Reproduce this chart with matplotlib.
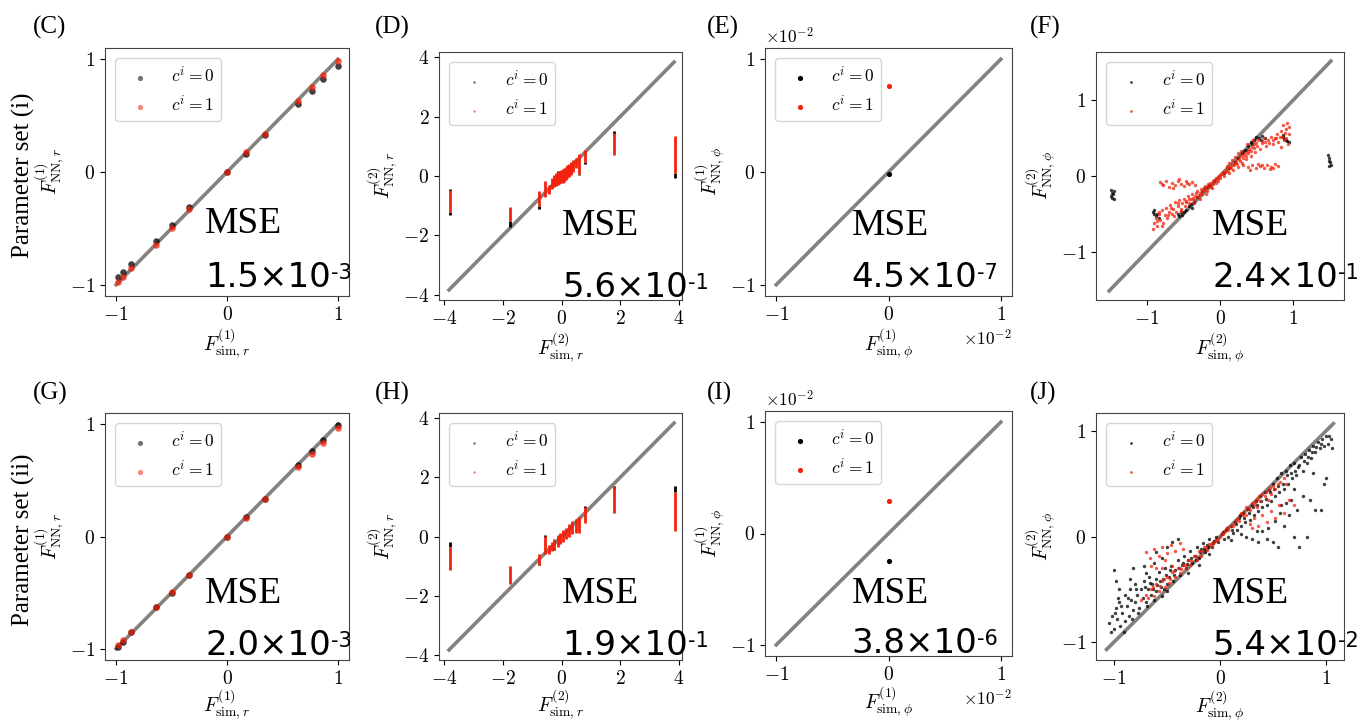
import matplotlib
matplotlib.use("Agg")
import matplotlib.pyplot as plt
import numpy as np

plt.rcParams["font.family"] = "cmr10"
plt.rcParams["mathtext.fontset"] = "cm"
plt.rcParams["axes.formatter.use_mathtext"] = True
plt.rcParams["axes.unicode_minus"] = True

C_BLACK = "#000000"
C_RED = "#f2220c"
C_DIAG = "#86817c"

# ---------------- data ----------------
# panel C / G : F^(1)_r  (sim value, NN value)
r1_sim = [-0.985, -0.94, -0.866, -0.643, -0.5, -0.342, 0.0, 0.174, 0.342, 0.643, 0.766, 0.866, 1.0]
C_nn0 = [-0.935, -0.89, -0.816, -0.608, -0.466, -0.312, 0.0, 0.157, 0.332, 0.602, 0.721, 0.822, 0.94]
C_nn1 = [-0.98, -0.935, -0.855, -0.644, -0.498, -0.332, 0.0, 0.178, 0.341, 0.632, 0.757, 0.86, 0.985]
G_nn0 = [-0.98, -0.94, -0.855, -0.632, -0.5, -0.341, 0.0, 0.17, 0.332, 0.635, 0.763, 0.858, 0.99]
G_nn1 = [-0.964, -0.92, -0.85, -0.632, -0.49, -0.341, 0.0, 0.163, 0.332, 0.623, 0.739, 0.837, 0.97]

# panel D / H : F^(2)_r, vertical streaks (sim value, NN low, NN high)
D_red_x = [-3.80, -1.75, -0.78, -0.55, -0.44, -0.33, -0.25, -0.18, -0.13, -0.07, -0.02, 0.04,
           0.09, 0.14, 0.20, 0.26, 0.32, 0.40, 0.49, 0.60, 0.80, 1.78, 3.85]
D_red_lo = [-1.20, -1.53, -1.00, -0.69, -0.60, -0.45, -0.37, -0.33, -0.30, -0.28, -0.24, -0.22,
            -0.20, -0.14, -0.08, -0.03, 0.03, 0.12, 0.26, 0.08, 0.47, 0.71, 0.11]
D_red_hi = [-0.47, -1.05, -0.49, -0.17, -0.30, -0.08, 0.03, 0.10, 0.14, 0.18, 0.20, 0.23,
            0.26, 0.30, 0.37, 0.42, 0.48, 0.55, 0.62, 0.75, 0.86, 1.43, 1.34]
D_blk_x = [-3.80, -3.80, -1.75, -0.78, -0.13, 0.60, 0.80, 1.78, 3.85]
D_blk_lo = [-1.30, -0.52, -1.70, -1.10, 0.10, 0.02, 0.42, 1.40, -0.08]
D_blk_hi = [-1.20, -0.45, -1.53, -1.00, 0.16, 0.08, 0.47, 1.52, 0.11]

H_red_x = [-3.80, -1.75, -0.78, -0.55, -0.44, -0.33, -0.25, -0.13, -0.04, 0.05, 0.15, 0.25,
           0.37, 0.49, 0.60, 0.80, 1.78, 3.85]
H_red_lo = [-1.12, -1.60, -0.96, -0.60, -0.60, -0.50, -0.45, -0.34, -0.25, -0.18, -0.10, 0.00,
            0.08, 0.13, 0.13, 0.45, 0.80, 0.20]
H_red_hi = [-0.34, -1.00, -0.60, 0.02, -0.30, -0.20, -0.07, 0.04, 0.12, 0.22, 0.30, 0.41,
            0.52, 0.60, 0.67, 1.00, 1.70, 1.50]
H_blk_x = [-3.80, -0.78, -0.55, -0.25, 0.80, 1.78, 3.85]
H_blk_lo = [-0.34, -0.96, 0.00, -0.45, 0.95, 1.60, 1.50]
H_blk_hi = [-0.18, -0.88, 0.06, -0.40, 1.03, 1.72, 1.72]

# panel E / I : F^(1)_phi
E_sim0, E_nn0 = [0.0], [-0.0002]
E_sim1, E_nn1 = [0.0], [0.0076]
I_sim0, I_nn0 = [0.0], [-0.0025]
I_sim1, I_nn1 = [0.0], [0.0029]

# panel F : F^(2)_phi
F_x0 = [-1.50, -1.48, -1.50, -1.46, -1.48, -1.45, -1.47, 1.48, 1.50, 1.50, 1.52, 1.49, 1.51,
        -0.92, -0.90, -0.88, -0.86, -0.84, -0.90, -0.58, -0.56, -0.54, -0.52, -0.50,
        -0.42, -0.40, -0.38, -0.36, -0.25, -0.22, -0.15, -0.08, 0.05, 0.12, 0.20, 0.30, 0.35, 0.38,
        0.42, 0.46, 0.50, 0.54, 0.58, 0.62, 0.86, 0.88, 0.90, 0.92, 0.95, 0.87,
        -0.47, -0.32, -0.18, 0.25, 0.33, 0.44, 0.56]
F_y0 = [-0.18, -0.22, -0.26, -0.30, -0.29, -0.20, -0.24, 0.28, 0.24, 0.20, 0.15, 0.13, 0.18,
        -0.47, -0.50, -0.53, -0.50, -0.55, -0.45, -0.50, -0.53, -0.48, -0.51, -0.47,
        -0.40, -0.37, -0.42, -0.35, -0.20, -0.16, -0.12, -0.06, 0.04, 0.10, 0.18, 0.30, 0.35, 0.40,
        0.45, 0.48, 0.52, 0.50, 0.53, 0.50, 0.52, 0.49, 0.47, 0.46, 0.45, 0.54,
        -0.45, -0.28, -0.15, 0.24, 0.33, 0.42, 0.48]
F_x1 = [-0.92, -0.90, -0.88, -0.86, -0.84, -0.82, -0.80, -0.78, -0.76, -0.74, -0.72, -0.70, -0.68,
        -0.66, -0.64, -0.62, -0.60, -0.58, -0.56, -0.54, -0.52, -0.50, -0.48, -0.46, -0.44, -0.42,
        -0.40, -0.38, -0.36, -0.34, -0.32, -0.30, -0.28, -0.26, -0.24, -0.22, -0.20, -0.18, -0.16,
        -0.14, -0.12, -0.10, -0.08, -0.06, -0.04, -0.02, 0.00, 0.02, 0.04, 0.06, 0.08, 0.10, 0.12,
        0.14, 0.16, 0.18, 0.20, 0.22, 0.24, 0.26, 0.28, 0.30, 0.32, 0.34, 0.36, 0.38, 0.40, 0.42,
        0.44, 0.46, 0.48, 0.50, 0.52, 0.55, 0.58, 0.60, 0.63, 0.66, 0.70, 0.72, 0.75, 0.78, 0.80,
        0.83, 0.85, 0.86, 0.88, 0.90, 0.92, 0.93, 0.95, 0.94,
        -0.82, -0.78, -0.74, -0.70, -0.66, -0.62, -0.58, -0.54, -0.50, -0.46, -0.42, -0.38, -0.34,
        0.32, 0.38, 0.44, 0.50, 0.55, 0.60, 0.65, 0.70, 0.75, 0.80, 0.52, 0.68,
        -0.87, -0.83, -0.79, -0.71, -0.67, -0.63, -0.57, -0.53, -0.47, -0.43, -0.37, -0.33, -0.29,
        -0.25, -0.21, -0.17, -0.13, -0.09, -0.05, -0.01, 0.03, 0.07, 0.11, 0.15, 0.19, 0.23, 0.27,
        0.31, 0.35, 0.39, 0.43, 0.47, 0.51, 0.57, 0.62, 0.67, 0.73, 0.77, 0.82, 0.89, 0.91, 0.13,
        0.21, 0.29, 0.37, 0.45, -0.19, -0.27, -0.35, 0.09, 0.17, 0.25, -0.11, -0.03,
        -0.79, -0.64, -0.56, -0.45, 0.41, 0.58, 0.72, 0.84]
F_y1 = [-0.70, -0.62, -0.55, -0.66, -0.50, -0.58, -0.45, -0.62, -0.52, -0.42, -0.56, -0.48, -0.38,
        -0.50, -0.44, -0.35, -0.47, -0.40, -0.32, -0.43, -0.36, -0.30, -0.40, -0.33, -0.27, -0.36,
        -0.30, -0.24, -0.32, -0.26, -0.20, -0.28, -0.22, -0.17, -0.24, -0.18, -0.13, -0.20, -0.14,
        -0.09, -0.15, -0.10, -0.05, -0.09, -0.04, 0.00, -0.03, 0.02, 0.05, 0.00, 0.07, 0.10, 0.04,
        0.12, 0.15, 0.08, 0.17, 0.20, 0.12, 0.22, 0.26, 0.17, 0.28, 0.30, 0.22, 0.33, 0.36, 0.27,
        0.38, 0.42, 0.32, 0.44, 0.47, 0.36, 0.46, 0.50, 0.40, 0.48, 0.52, 0.42, 0.50, 0.55, 0.45,
        0.60, 0.52, 0.68, 0.47, 0.62, 0.70, 0.42, 0.55, 0.65,
        -0.08, -0.12, -0.06, -0.14, -0.09, -0.12, -0.06, -0.10, -0.13, -0.07, -0.11, -0.08, -0.12,
        0.14, 0.12, 0.15, 0.11, 0.13, 0.10, 0.14, 0.12, 0.16, 0.13, 0.16, 0.09,
        -0.60, -0.47, -0.66, -0.52, -0.42, -0.53, -0.36, -0.46, -0.34, -0.31, -0.29, -0.23, -0.25,
        -0.20, -0.16, -0.11, -0.12, -0.07, -0.02, -0.01, 0.03, 0.05, 0.07, 0.10, 0.14, 0.16, 0.20,
        0.24, 0.27, 0.30, 0.33, 0.37, 0.40, 0.43, 0.45, 0.44, 0.47, 0.50, 0.52, 0.57, 0.50, 0.17,
        0.25, 0.33, 0.42, 0.48, -0.24, -0.30, -0.36, 0.13, 0.21, 0.30, -0.16, -0.07,
        -0.10, -0.16, -0.04, -0.09, 0.08, 0.14, 0.11, 0.38]

# panel J : F^(2)_phi
J_x0 = [-1.05, -1.02, -1.00, -0.98, -0.97, -0.95, -0.94, -0.92, -0.90, -0.90, -0.88, -0.86, -0.85,
        -0.84, -0.82, -0.80, -0.80, -0.78, -0.76, -0.75, -0.73, -0.72, -0.70, -0.68, -0.67, -0.65,
        -0.64, -0.62, -0.60, -0.60, -0.58, -0.56, -0.55, -0.54, -0.52, -0.50, -0.50,
        -1.00, -0.98, -0.82, -0.72, -0.60, -0.55, -0.45, -0.40, -0.50,
        -0.48, -0.46, -0.44, -0.42, -0.40, -0.38, -0.36, -0.34, -0.32, -0.30, -0.28, -0.26, -0.24,
        -0.22, -0.20, -0.18, -0.16, -0.14, -0.12, -0.10, -0.08, -0.06, -0.04, -0.02, -0.30, -0.20, -0.10,
        0.02, 0.04, 0.06, 0.08, 0.10, 0.12, 0.14, 0.16, 0.18, 0.20, 0.22, 0.24, 0.26, 0.28, 0.30,
        0.32, 0.34, 0.36, 0.38, 0.40, 0.42, 0.44, 0.46, 0.48, 0.50, 0.25, 0.30, 0.35, 0.45, 0.10, 0.20,
        0.52, 0.54, 0.56, 0.58, 0.60, 0.62, 0.64, 0.66, 0.68, 0.70, 0.72, 0.74, 0.76, 0.78, 0.80,
        0.82, 0.84, 0.86, 0.88, 0.90, 0.92, 0.94, 0.96, 0.98, 1.00, 1.02, 1.05, 1.06,
        0.55, 0.60, 0.65, 0.70, 0.75, 0.82, 0.85, 0.90, 0.95, 0.98, 1.00, 0.58, 0.50, 0.44, 0.62,
        0.78, 0.70, 0.88,
        -1.03, -0.99, -0.96, -0.93, -0.91, -0.87, -0.83, -0.79, -0.77, -0.71, -0.69, -0.66, -0.63,
        -0.59, -0.57, -0.53, -0.51, -0.47, -0.43, -0.39, -0.35, -0.31, -0.27, -0.23, -0.19, -0.15,
        -0.11, -0.07, 0.03, 0.07, 0.11, 0.15, 0.19, 0.23, 0.27, 0.31, 0.35, 0.39, 0.43, 0.47, 0.51,
        0.55, 0.59, 0.63, 0.67, 0.71, 0.75, 0.79, 0.83, 0.87, 0.91, 0.95, 1.03, 0.57, 0.67, 0.73,
        0.52, 0.40, 0.36, -0.62, -0.70, -0.85, -0.95]
J_y0 = [-0.82, -0.75, -0.88, -0.68, -0.78, -0.62, -0.85, -0.72, -0.55, -0.80, -0.66, -0.75, -0.50,
        -0.60, -0.70, -0.45, -0.62, -0.55, -0.68, -0.50, -0.58, -0.42, -0.62, -0.50, -0.38, -0.55,
        -0.45, -0.60, -0.40, -0.52, -0.34, -0.48, -0.56, -0.40, -0.30, -0.45, -0.52,
        -0.32, -0.42, -0.30, -0.28, -0.15, -0.20, -0.05, -0.02, -0.10,
        -0.38, -0.28, -0.42, -0.32, -0.22, -0.36, -0.27, -0.18, -0.30, -0.22, -0.14, -0.25, -0.18,
        -0.10, -0.20, -0.12, -0.06, -0.15, -0.08, -0.02, -0.10, -0.04, 0.00, -0.05, -0.35, -0.27, -0.17,
        0.02, -0.02, 0.06, 0.00, 0.10, 0.03, 0.14, 0.06, 0.18, 0.10, 0.22, 0.14, 0.26, 0.16, 0.30,
        0.20, 0.34, 0.24, 0.38, 0.28, 0.42, 0.30, 0.44, 0.34, 0.50, 0.00, -0.02, 0.05, 0.08, -0.03, 0.02,
        0.38, 0.55, 0.42, 0.60, 0.45, 0.62, 0.50, 0.68, 0.55, 0.70, 0.58, 0.66, 0.75, 0.62, 0.78,
        0.70, 0.82, 0.74, 0.86, 0.80, 0.90, 0.84, 0.92, 0.86, 0.95, 0.88, 0.92, 0.84,
        -0.10, 0.10, 0.20, 0.00, -0.10, 0.00, 0.35, 0.25, 0.25, 0.50, 0.55, 0.30, -0.05, -0.02, 0.32,
        0.38, 0.45, 0.60,
        -0.90, -0.72, -0.58, -0.66, -0.90, -0.58, -0.78, -0.50, -0.72, -0.48, -0.66, -0.44, -0.50,
        -0.46, -0.42, -0.50, -0.36, -0.32, -0.36, -0.30, -0.25, -0.26, -0.20, -0.22, -0.15, -0.12,
        -0.10, -0.06, 0.04, 0.08, 0.06, 0.12, 0.20, 0.18, 0.22, 0.28, 0.30, 0.34, 0.36, 0.42, 0.45,
        0.48, 0.50, 0.58, 0.60, 0.62, 0.68, 0.72, 0.75, 0.80, 0.85, 0.88, 0.95, 0.22, 0.35, 0.25,
        0.15, 0.05, -0.05, -0.25, -0.35, -0.40, -0.50]
J_x1 = [-0.75, -0.70, -0.65, -0.62, -0.60, -0.58, -0.55, -0.52, -0.50, -0.48, -0.45, -0.42, -0.40,
        -0.38, -0.35, -0.32, -0.30, -0.28, -0.25, -0.22, -0.20, -0.18, -0.15, -0.12, -0.10, -0.08,
        -0.05, -0.02, 0.00, 0.03, 0.05, 0.08, 0.10, 0.12, 0.15, 0.18, 0.20, 0.22, 0.25, 0.28, 0.30,
        0.32, 0.35, 0.38, 0.40, 0.42, 0.45, 0.48, 0.50, 0.55, 0.60,
        -0.70, -0.66, -0.62, -0.58, -0.55, -0.50, -0.46, -0.42, -0.38, -0.35, -0.65, -0.55,
        0.28, 0.32, 0.36, 0.40, 0.44, 0.48, 0.52, 0.56, 0.60, 0.65, 0.70, 0.30,
        -0.68, -0.63, -0.57, -0.53, -0.47, -0.43, -0.37, -0.33, -0.27, -0.23, -0.17, -0.13, -0.07,
        -0.03, 0.02, 0.07, 0.13, 0.17, 0.23, 0.27, 0.33, 0.37, 0.43, 0.47, 0.52, 0.57, 0.62, 0.45,
        0.35, 0.25, -0.45, -0.52, -0.60]
J_y1 = [-0.60, -0.55, -0.50, -0.56, -0.45, -0.52, -0.42, -0.48, -0.38, -0.44, -0.34, -0.38, -0.30,
        -0.35, -0.27, -0.30, -0.22, -0.27, -0.18, -0.22, -0.14, -0.18, -0.10, -0.13, -0.07, -0.09,
        -0.04, -0.02, 0.00, 0.02, 0.05, 0.06, 0.10, 0.10, 0.16, 0.15, 0.22, 0.20, 0.28, 0.25, 0.32,
        0.30, 0.36, 0.34, 0.40, 0.38, 0.44, 0.40, 0.48, 0.50, 0.55,
        -0.15, -0.20, -0.12, -0.18, -0.10, -0.16, -0.08, -0.14, -0.06, -0.12, -0.28, -0.30,
        0.12, 0.18, 0.10, 0.20, 0.14, 0.24, 0.18, 0.30, 0.22, 0.35, 0.30, 0.08,
        -0.58, -0.48, -0.47, -0.40, -0.40, -0.33, -0.31, -0.27, -0.23, -0.18, -0.14, -0.10, -0.06,
        -0.03, 0.03, 0.08, 0.13, 0.18, 0.24, 0.27, 0.33, 0.38, 0.42, 0.46, 0.45, 0.52, 0.50, 0.35,
        0.28, 0.20, -0.28, -0.22, -0.30]

# diagonal (range of simulated values)
diag_C = [-1.0, 1.0]
diag_D = [-3.83, 3.83]
diag_E = [-0.01, 0.01]
diag_F = [-1.52, 1.52]
diag_J = [-1.07, 1.07]

mse_text = ["1.5×10", "5.6×10", "4.5×10", "2.4×10", "2.0×10", "1.9×10", "3.8×10", "5.4×10"]
mse_exp = ["-3", "-1", "-7", "-1", "-3", "-1", "-6", "-2"]
panel_tags = ["(C)", "(D)", "(E)", "(F)", "(G)", "(H)", "(I)", "(J)"]
row_labels = ["Parameter set (i)", "Parameter set (ii)"]

# ---------------- layout ----------------
W, H = 1368, 724
fig = plt.figure(figsize=(W / 100, H / 100), dpi=100)


def px_rect(l, t, r, b):
    return [l / W, 1 - b / H, (r - l) / W, (b - t) / H]


rects = [(105, 48, 349, 296), (439, 52, 682, 300), (765, 48, 1012, 296), (1096, 52, 1344, 300),
         (105, 413, 349, 660), (439, 413, 682, 660), (765, 411, 1012, 656), (1096, 413, 1344, 660)]
axes = [fig.add_axes(px_rect(*r)) for r in rects]

# (x frac, MSE baseline, number baseline)
mse_pos = [(0.41, 0.254, 0.036), (0.506, 0.262, 0.012), (0.35, 0.246, 0.036), (0.468, 0.262, 0.052),
           (0.41, 0.229, 0.02), (0.506, 0.229, 0.02), (0.35, 0.215, 0.012), (0.468, 0.229, 0.02)]

ylabs = [r"$F^{(1)}_{\mathrm{NN},r}$", r"$F^{(2)}_{\mathrm{NN},r}$",
         r"$F^{(1)}_{\mathrm{NN},\phi}$", r"$F^{(2)}_{\mathrm{NN},\phi}$"]
xlabs = [r"$F^{(1)}_{\mathrm{sim},r}$", r"$F^{(2)}_{\mathrm{sim},r}$",
         r"$F^{(1)}_{\mathrm{sim},\phi}$", r"$F^{(2)}_{\mathrm{sim},\phi}$"]


def legend(ax, s, alpha):
    h0 = ax.scatter([], [], s=s, color=C_BLACK, alpha=alpha, lw=0, label=r"$c^i=0$")
    h1 = ax.scatter([], [], s=s, color=C_RED, alpha=alpha, lw=0, label=r"$c^i=1$")
    ax.legend(handles=[h0, h1], loc="upper left", fontsize=12.5, borderaxespad=0.6)


for k, ax in enumerate(axes):
    col = k % 4
    if col == 0:
        ax.plot(diag_C, diag_C, color=C_DIAG, lw=2.6, zorder=1)
        nn0, nn1 = (C_nn0, C_nn1) if k == 0 else (G_nn0, G_nn1)
        ax.scatter(r1_sim, nn0, s=22, color=C_BLACK, alpha=0.75, lw=0, zorder=2)
        ax.scatter(r1_sim, nn1, s=22, color=C_RED, alpha=0.75, lw=0, zorder=3)
        ax.set_xlim(-1.1, 1.1)
        ax.set_ylim(-1.1, 1.1)
        ax.set_xticks([-1, 0, 1])
        ax.set_yticks([-1, 0, 1])
        legend(ax, 14, 0.55)
    elif col == 1:
        ax.plot(diag_D, diag_D, color=C_DIAG, lw=2.6, zorder=1)
        if k == 1:
            bx, blo, bhi, rx, rlo, rhi = D_blk_x, D_blk_lo, D_blk_hi, D_red_x, D_red_lo, D_red_hi
        else:
            bx, blo, bhi, rx, rlo, rhi = H_blk_x, H_blk_lo, H_blk_hi, H_red_x, H_red_lo, H_red_hi
        ax.vlines(bx, blo, bhi, color=C_BLACK, lw=2.0, zorder=2)
        ax.vlines(rx, rlo, rhi, color=C_RED, lw=2.0, zorder=3)
        ax.set_xlim(-4.17, 4.1)
        ax.set_ylim(-4.17, 4.17)
        ax.set_xticks([-4, -2, 0, 2, 4])
        ax.set_yticks([-4, -2, 0, 2, 4])
        legend(ax, 3, 0.6)
    elif col == 2:
        ax.plot(diag_E, diag_E, color=C_DIAG, lw=2.6, zorder=1)
        if k == 2:
            s0, n0, s1, n1 = E_sim0, E_nn0, E_sim1, E_nn1
        else:
            s0, n0, s1, n1 = I_sim0, I_nn0, I_sim1, I_nn1
        ax.scatter(s0, n0, s=14, color=C_BLACK, lw=0, zorder=2)
        ax.scatter(s1, n1, s=14, color=C_RED, lw=0, zorder=3)
        ax.set_xlim(-0.011, 0.011)
        ax.set_ylim(-0.011, 0.011)
        ax.set_xticks([-0.01, 0, 0.01])
        ax.set_yticks([-0.01, 0, 0.01])
        ax.ticklabel_format(style="sci", scilimits=(0, 0), useMathText=True)
        ax.xaxis.get_offset_text().set_fontsize(12.5)
        ax.yaxis.get_offset_text().set_fontsize(12.5)
        legend(ax, 14, 1.0)
    else:
        if k == 3:
            d, x0, y0, x1, y1 = diag_F, F_x0, F_y0, F_x1, F_y1
            ax.set_xlim(-1.7, 1.7)
            ax.set_ylim(-1.64, 1.64)
        else:
            d, x0, y0, x1, y1 = diag_J, J_x0, J_y0, J_x1, J_y1
            ax.set_xlim(-1.17, 1.17)
            ax.set_ylim(-1.17, 1.17)
        ax.plot(d, d, color=C_DIAG, lw=2.6, zorder=1)
        ax.scatter(x0, y0, s=6, color=C_BLACK, alpha=0.75, lw=0, zorder=2)
        ax.scatter(x1, y1, s=6, color=C_RED, alpha=0.75, lw=0, zorder=3)
        ax.set_xticks([-1, 0, 1])
        ax.set_yticks([-1, 0, 1])
        legend(ax, 4, 0.75)

    ax.tick_params(labelsize=14)
    for sp in ax.spines.values():
        sp.set_color("#444444")
    ax.set_ylabel(ylabs[col], fontsize=14, labelpad=2)
    ax.set_xlabel(xlabs[col], fontsize=14, labelpad=2 if k < 4 else 0)

    xf, yb1, yb2 = mse_pos[k]
    ax.text(xf, yb1, "MSE", transform=ax.transAxes, fontsize=27, family="Liberation Serif",
            va="baseline", ha="left", zorder=6)
    t = ax.text(xf, yb2, mse_text[k], transform=ax.transAxes, fontsize=24.5, family="DejaVu Sans",
                va="baseline", ha="left", zorder=6)
    ax.annotate(mse_exp[k], xy=(1.0, 0.93), xycoords=t, fontsize=15, family="DejaVu Sans",
                va="top", ha="left", zorder=6, annotation_clip=False)

    px_l = [33, 375, 707, 1030][col]
    py = 27 if k < 4 else 393
    fig.text(px_l / W, 1 - py / H, panel_tags[k], fontsize=18, family="Liberation Serif",
             ha="left", va="center")

fig.text(23 / W, 1 - 175 / H, row_labels[0], fontsize=18, family="Liberation Serif",
         rotation=90, ha="center", va="center")
fig.text(23 / W, 1 - 540 / H, row_labels[1], fontsize=18, family="Liberation Serif",
         rotation=90, ha="center", va="center")

fig.savefig("out.png", dpi=100)
